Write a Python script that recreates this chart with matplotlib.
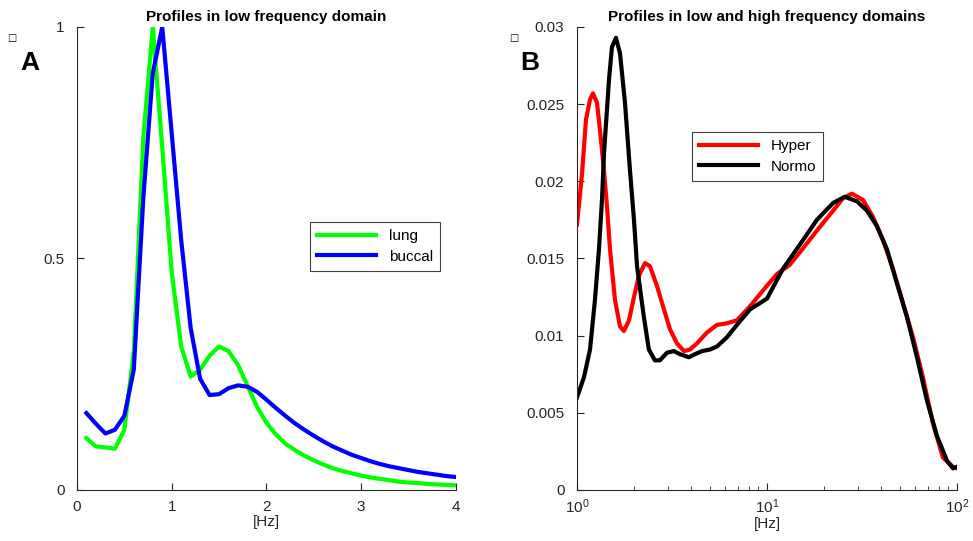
import numpy as np
import matplotlib
matplotlib.use('Agg')
import matplotlib.pyplot as plt
import matplotlib.ticker as ticker

plt.rcParams['font.family'] = ['Liberation Sans', 'DejaVu Sans']

# panel A: low frequency profiles, sampled every 0.1 Hz
freq_low = np.round(np.arange(0.1, 4.01, 0.1), 1)
lung = [0.112, 0.094, 0.092, 0.089, 0.130, 0.300, 0.760, 1.000, 0.740, 0.470,
        0.310, 0.245, 0.260, 0.290, 0.310, 0.300, 0.270, 0.225, 0.180, 0.145,
        0.120, 0.100, 0.086, 0.074, 0.064, 0.055, 0.047, 0.041, 0.036, 0.031,
        0.027, 0.024, 0.021, 0.018, 0.016, 0.015, 0.013, 0.012, 0.011, 0.010]
buccal = [0.166, 0.143, 0.122, 0.130, 0.160, 0.260, 0.630, 0.900, 1.000, 0.770,
          0.540, 0.350, 0.240, 0.205, 0.207, 0.220, 0.226, 0.223, 0.212, 0.195,
          0.177, 0.160, 0.144, 0.130, 0.117, 0.105, 0.094, 0.085, 0.076, 0.069,
          0.062, 0.056, 0.051, 0.047, 0.043, 0.039, 0.036, 0.033, 0.030, 0.028]

# panel B: low and high frequency profiles
freq_hyper = [1.00, 1.063, 1.115, 1.171, 1.214, 1.274, 1.322, 1.387, 1.438, 1.492,
              1.585, 1.684, 1.767, 1.878, 1.995, 2.12, 2.28, 2.42, 2.64, 2.87,
              3.09, 3.36, 3.66, 3.93, 4.28, 4.83, 5.46, 6.16, 6.95, 8.14,
              9.64, 11.3, 13.2, 14.9, 18.3, 22.3, 25.1, 28.0, 32.0, 36.1,
              40.8, 46.1, 52.0, 58.7, 66.2, 74.8, 84.4, 95.3, 100.0]
hyper = [0.0172, 0.0205, 0.0240, 0.0253, 0.0257, 0.0251, 0.0233, 0.0207, 0.0184, 0.0156,
         0.0123, 0.0106, 0.0103, 0.0110, 0.0125, 0.0139, 0.0147, 0.0145, 0.0132, 0.0117,
         0.0104, 0.0095, 0.0090, 0.0091, 0.0095, 0.0102, 0.0107, 0.0108, 0.0110, 0.0119,
         0.0130, 0.0140, 0.0146, 0.0154, 0.0168, 0.0181, 0.0189, 0.0192, 0.0188, 0.0177,
         0.0162, 0.0143, 0.0121, 0.0099, 0.0073, 0.0043, 0.0021, 0.0015, 0.0014]

freq_normo = [1.00, 1.088, 1.171, 1.243, 1.305, 1.354, 1.387, 1.474, 1.528, 1.604,
              1.684, 1.789, 1.901, 1.995, 2.07, 2.25, 2.39, 2.57, 2.73, 2.98,
              3.24, 3.48, 3.88, 4.18, 4.55, 5.01, 5.46, 6.16, 6.95, 8.14,
              10.0, 12.1, 14.9, 18.3, 22.3, 25.7, 29.8, 33.6, 37.9, 42.8,
              48.3, 54.6, 61.6, 69.5, 78.5, 88.6, 95.3, 100.0]
normo = [0.0060, 0.0073, 0.0091, 0.0123, 0.0156, 0.0188, 0.0218, 0.0266, 0.0287, 0.0293,
         0.0283, 0.0251, 0.0207, 0.0175, 0.0145, 0.0112, 0.0091, 0.0084, 0.0084, 0.0089,
         0.0090, 0.0088, 0.0086, 0.0088, 0.0090, 0.0091, 0.0093, 0.0099, 0.0107, 0.0117,
         0.0124, 0.0143, 0.0159, 0.0175, 0.0186, 0.0190, 0.0187, 0.0181, 0.0171, 0.0156,
         0.0134, 0.0112, 0.0086, 0.0058, 0.0035, 0.0019, 0.0014, 0.0015]

axis_col = '#262626'


def style_axes(ax):
    for s in ['top', 'right']:
        ax.spines[s].set_visible(False)
    for s in ['left', 'bottom']:
        ax.spines[s].set_color(axis_col)
        ax.spines[s].set_linewidth(0.8)
    ax.tick_params(which='both', direction='in', color=axis_col,
                   labelsize=11, labelcolor='#262626')
    ax.tick_params(which='major', length=5)
    ax.tick_params(which='minor', length=3)
    ax.tick_params(axis='y', pad=9)
    ax.tick_params(axis='x', pad=7)


def style_legend(leg):
    leg.get_frame().set_edgecolor('#404040')
    leg.get_frame().set_linewidth(0.8)


fig = plt.figure(figsize=(9.73, 5.41), dpi=100)

# ---- panel A
ax1 = fig.add_axes([0.0791, 0.0943, 0.3895, 0.8558])
ax1.plot(freq_low, lung, color=(0, 1, 0), lw=3, label='lung')
ax1.plot(freq_low, buccal, color=(0, 0, 1), lw=3, label='buccal')
ax1.set_xlim(0, 4)
ax1.set_ylim(0, 1)
ax1.set_xticks([0, 1, 2, 3, 4])
ax1.set_yticks([0, 0.5, 1])
ax1.set_yticklabels(['0', '0.5', '1'])
style_axes(ax1)
ax1.set_xlabel('[Hz]', fontsize=11, color='#262626', labelpad=1)
ax1.set_title('Profiles in low frequency domain', fontsize=11,
              fontweight='bold', pad=4)
leg1 = ax1.legend(loc='upper left', bbox_to_anchor=(0.3186, 0.5896),
                  bbox_transform=fig.transFigure, fancybox=False,
                  fontsize=11, handlelength=3.9, borderpad=0.45,
                  labelspacing=0.45, borderaxespad=0, framealpha=1)
style_legend(leg1)

# ---- panel B
ax2 = fig.add_axes([0.593, 0.0943, 0.3905, 0.8558])
ax2.plot(freq_hyper, hyper, color=(1, 0, 0), lw=3, label='Hyper')
ax2.plot(freq_normo, normo, color='black', lw=3, label='Normo')
ax2.set_xscale('log')
ax2.set_xlim(1, 100)
ax2.set_ylim(0, 0.03)
ax2.set_yticks([0, 0.005, 0.01, 0.015, 0.02, 0.025, 0.03])
ax2.set_yticklabels(['0', '0.005', '0.01', '0.015', '0.02', '0.025', '0.03'])
ax2.xaxis.set_major_locator(ticker.LogLocator(base=10))
ax2.xaxis.set_minor_locator(ticker.LogLocator(base=10, subs=np.arange(2, 10)))
ax2.xaxis.set_minor_formatter(ticker.NullFormatter())
style_axes(ax2)
ax2.tick_params(axis='x', pad=5)
ax2.set_xlabel('[Hz]', fontsize=11, color='#262626', labelpad=1)
ax2.set_title('Profiles in low and high frequency domains', fontsize=11,
              fontweight='bold', pad=4)
leg2 = ax2.legend(loc='upper left', bbox_to_anchor=(0.7112, 0.756),
                  bbox_transform=fig.transFigure, fancybox=False,
                  fontsize=11, handlelength=3.9, borderpad=0.45,
                  labelspacing=0.45, borderaxespad=0, framealpha=1)
style_legend(leg2)

# panel letters and the small boxes next to them
fig.text(30 / 973, 1 - 63 / 541, 'A', fontsize=19, fontweight='bold',
         ha='center', va='center')
fig.text(530 / 973, 1 - 63 / 541, 'B', fontsize=19, fontweight='bold',
         ha='center', va='center')
fig.text(12 / 973, 1 - 38 / 541, '\u25a1', fontsize=7, ha='center',
         va='center', family='DejaVu Sans')
fig.text(514 / 973, 1 - 38 / 541, '\u25a1', fontsize=7, ha='center',
         va='center', family='DejaVu Sans')

fig.savefig('out.png', dpi=100)
